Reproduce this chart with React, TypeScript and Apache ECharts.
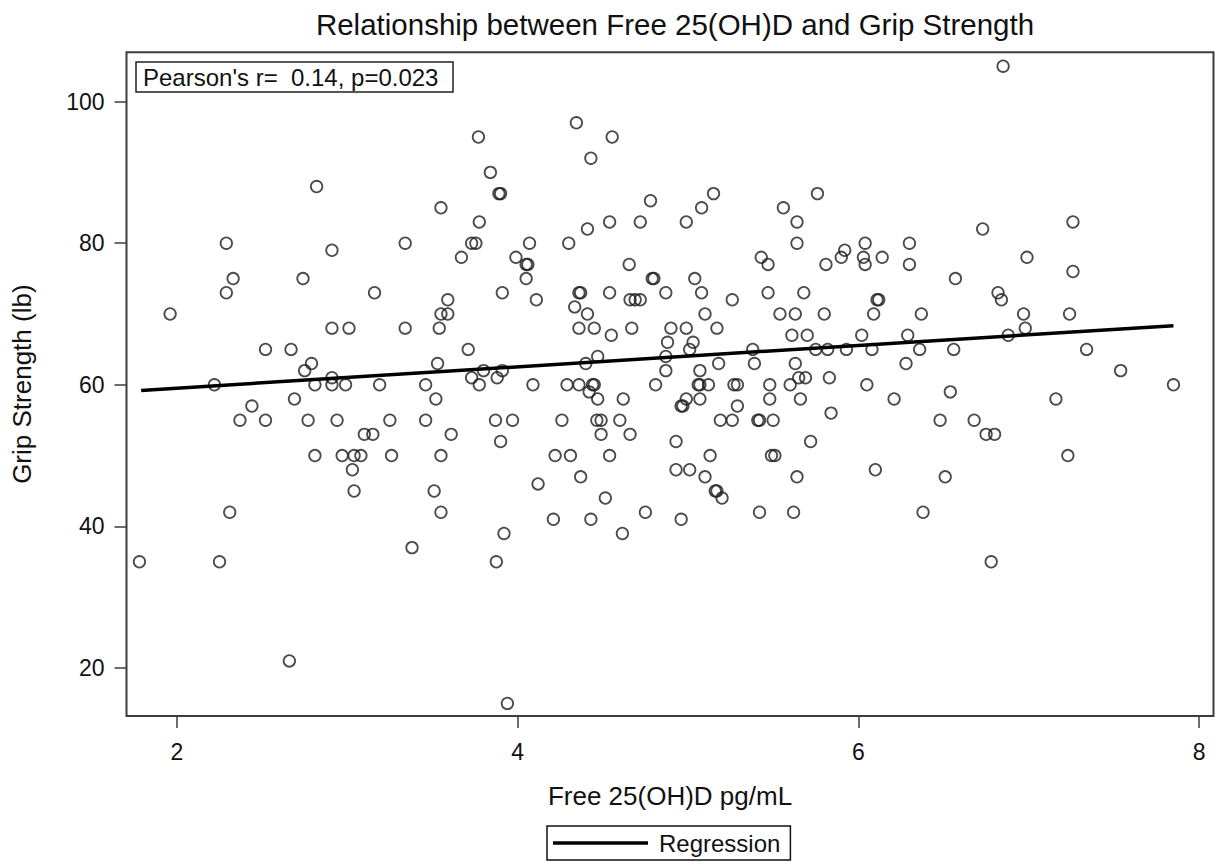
import React, { useEffect, useRef } from "react";
import * as echarts from "echarts";

const titleText = "Relationship between Free 25(OH)D and Grip Strength";
const xAxisTitle = "Free 25(OH)D pg/mL";
const yAxisTitle = "Grip Strength (lb)";
const statText = "Pearson's r=  0.14, p=0.023";
const legendLabel = "Regression";

const xTicks = [2, 4, 6, 8];
const yTicks = [20, 40, 60, 80, 100];

const freeD = [
  1.78, 1.96, 2.22, 2.25, 2.29, 2.29, 2.33, 2.31, 2.37, 2.44,
  2.52, 2.52, 2.66, 2.67, 2.69, 2.74, 2.75, 2.77, 2.79, 2.81,
  2.81, 2.82, 2.91, 2.91, 2.91, 2.91, 2.94, 2.97, 2.99, 3.01,
  3.03, 3.04, 3.04, 3.08, 3.10, 3.15, 3.16, 3.19, 3.25, 3.26,
  3.34, 3.34, 3.38, 3.46, 3.46, 3.51, 3.52, 3.53, 3.54, 3.55,
  3.55, 3.55, 3.55, 3.59, 3.59, 3.61, 3.67, 3.71, 3.73, 3.755,
  3.73, 3.775, 3.77, 3.775, 3.80, 3.84, 3.87, 3.875, 3.88, 3.89,
  3.90, 3.90, 3.91, 3.91, 3.92, 3.94, 3.97, 3.99, 4.05, 4.06,
  4.05, 4.07, 4.09, 4.11, 4.12, 4.21, 4.22, 4.26, 4.29, 4.30,
  4.31, 4.335, 4.345, 4.36, 4.37, 4.36, 4.36, 4.37, 4.40, 4.41,
  4.41, 4.42, 4.43, 4.43, 4.44, 4.45, 4.45, 4.465, 4.47, 4.47,
  4.49, 4.49, 4.515, 4.54, 4.54, 4.54, 4.555, 4.55, 4.60, 4.615,
  4.62, 4.655, 4.66, 4.69, 4.72, 4.67, 4.66, 4.72, 4.75, 4.78,
  4.79, 4.80, 4.81, 4.87, 4.87, 4.87, 4.88, 4.90, 4.93, 4.93,
  4.96, 4.96, 4.97, 4.99, 4.99, 4.99, 5.01, 5.03, 5.04, 5.01,
  5.06, 5.07, 5.07, 5.07, 5.08, 5.08, 5.10, 5.10, 5.12, 5.13,
  5.15, 5.16, 5.17, 5.17, 5.18, 5.19, 5.20, 5.26, 5.26, 5.27,
  5.29, 5.29, 5.38, 5.39, 5.41, 5.42, 5.42, 5.43, 5.47, 5.47,
  5.48, 5.48, 5.49, 5.50, 5.51, 5.54, 5.56, 5.60, 5.61, 5.62,
  5.63, 5.63, 5.64, 5.64, 5.64, 5.65, 5.66, 5.68, 5.69, 5.70,
  5.72, 5.75, 5.76, 5.80, 5.81, 5.82, 5.83, 5.84, 5.90, 5.92,
  5.93, 6.03, 6.04, 6.04, 6.02, 6.05, 6.08, 6.09, 6.10, 6.11,
  6.12, 6.14, 6.21, 6.28, 6.29, 6.30, 6.30, 6.36, 6.37, 6.38,
  6.48, 6.51, 6.54, 6.56, 6.57, 6.68, 6.73, 6.75, 6.78, 6.80,
  6.82, 6.84, 6.85, 6.88, 6.97, 6.98, 6.99, 7.16, 7.23, 7.24,
  7.26, 7.26, 7.34, 7.54, 7.85,
];

const gripStrength = [
  35, 70, 60, 35, 80, 73, 75, 42, 55, 57,
  65, 55, 21, 65, 58, 75, 62, 55, 63, 60,
  50, 88, 79, 68, 61, 60, 55, 50, 60, 68,
  48, 50, 45, 50, 53, 53, 73, 60, 55, 50,
  80, 68, 37, 60, 55, 45, 58, 63, 68, 85,
  70, 50, 42, 72, 70, 53, 78, 65, 80, 80,
  61, 83, 95, 60, 62, 90, 55, 35, 61, 87,
  87, 52, 73, 62, 39, 15, 55, 78, 77, 77,
  75, 80, 60, 72, 46, 41, 50, 55, 60, 80,
  50, 71, 97, 73, 73, 68, 60, 47, 63, 82,
  70, 59, 92, 41, 60, 60, 68, 55, 64, 58,
  55, 53, 44, 83, 73, 50, 95, 67, 55, 39,
  58, 77, 72, 72, 72, 68, 53, 83, 42, 86,
  75, 75, 60, 73, 64, 62, 66, 68, 52, 48,
  41, 57, 57, 68, 58, 83, 65, 66, 75, 48,
  60, 60, 62, 58, 85, 73, 70, 47, 60, 50,
  87, 45, 45, 68, 63, 55, 44, 72, 55, 60,
  60, 57, 65, 63, 55, 55, 42, 78, 77, 73,
  60, 58, 50, 55, 50, 70, 85, 60, 67, 42,
  70, 63, 83, 80, 47, 61, 58, 73, 61, 67,
  52, 65, 87, 70, 77, 65, 61, 56, 78, 79,
  65, 78, 80, 77, 67, 60, 65, 70, 48, 72,
  72, 78, 58, 63, 67, 80, 77, 65, 70, 42,
  55, 47, 59, 65, 75, 55, 82, 53, 35, 53,
  73, 72, 105, 67, 70, 68, 78, 58, 50, 70,
  83, 76, 65, 62, 60,
];

const regressionX = [1.79, 7.85];
const regressionY = [59.2, 68.35];

const FONT = '"Liberation Sans", Arial, Helvetica, sans-serif';

export default function App() {
  const ref = useRef<HTMLDivElement>(null);

  useEffect(() => {
    if (!ref.current) return;
    const chart = echarts.init(ref.current, null, { renderer: "svg" });
    const scatterData = freeD.map((x, i) => [x, gripStrength[i]]);
    const lineData = regressionX.map((x, i) => [x, regressionY[i]]);
    const tickFmt = (ticks: number[]) => (v: number) =>
      ticks.some((t) => Math.abs(t - v) < 1e-6) ? String(v) : "";

    chart.setOption({
      animation: false,
      backgroundColor: "#ffffff",
      textStyle: { fontFamily: FONT },
      title: {
        text: titleText,
        left: 670,
        textAlign: "center",
        top: 4,
        textStyle: { fontFamily: FONT, fontSize: 29.5, fontWeight: "normal", color: "#111" },
      },
      grid: {
        left: 126.5,
        right: 5.5,
        top: 52.3,
        bottom: 149,
        show: true,
        borderColor: "#3c3c3c",
        borderWidth: 2,
        backgroundColor: "#ffffff",
      },
      xAxis: {
        type: "value",
        min: 1.704,
        max: 8.085,
        axisLine: { show: false },
        splitLine: { show: false },
        axisTick: {
          show: true,
          length: 12,
          customValues: xTicks,
          lineStyle: { color: "#3c3c3c", width: 1.5 },
        },
        axisLabel: {
          customValues: xTicks,
          formatter: tickFmt(xTicks),
          fontFamily: FONT,
          fontSize: 23,
          color: "#111",
          margin: 24,
        },
        name: xAxisTitle,
        nameLocation: "middle",
        nameGap: 67,
        nameTextStyle: { fontFamily: FONT, fontSize: 26, color: "#111" },
      },
      yAxis: {
        type: "value",
        min: 13.22,
        max: 106.96,
        axisLine: { show: false },
        splitLine: { show: false },
        axisTick: {
          show: true,
          length: 12,
          customValues: yTicks,
          lineStyle: { color: "#3c3c3c", width: 1.5 },
        },
        axisLabel: {
          customValues: yTicks,
          formatter: tickFmt(yTicks),
          fontFamily: FONT,
          fontSize: 23,
          color: "#111",
          margin: 22,
        },
        name: yAxisTitle,
        nameLocation: "middle",
        nameGap: 92,
        nameRotate: 90,
        nameTextStyle: { fontFamily: FONT, fontSize: 26, color: "#111" },
      },
      legend: {
        data: [{ name: legendLabel, icon: "rect" }],
        left: 547,
        top: 826,
        itemWidth: 95,
        itemHeight: 3.5,
        itemStyle: { color: "#000", borderWidth: 0 },
        padding: [5, 10, 5, 6],
        borderColor: "#111",
        borderWidth: 1.5,
        borderRadius: 0,
        backgroundColor: "#ffffff",
        textStyle: { fontFamily: FONT, fontSize: 24, color: "#111", padding: [0, 0, 0, 6] },
      },
      graphic: [
        {
          type: "rect",
          shape: { x: 136, y: 62, width: 317, height: 30 },
          style: { fill: "#ffffff", stroke: "#222", lineWidth: 1.5 },
          z: 100,
        },
        {
          type: "text",
          x: 143,
          y: 77.5,
          style: {
            text: statText,
            fontFamily: FONT,
            fontSize: 24,
            fill: "#111",
            verticalAlign: "middle",
            align: "left",
          },
          z: 101,
        },
      ],
      series: [
        {
          name: "Data",
          type: "scatter",
          data: scatterData,
          symbol: "circle",
          symbolSize: 11.5,
          itemStyle: { color: "rgba(0,0,0,0)", borderColor: "#1e1e1e", borderWidth: 1.8 },
          emphasis: { disabled: true },
          z: 2,
        },
        {
          name: legendLabel,
          type: "line",
          data: lineData,
          symbol: "none",
          itemStyle: { color: "#000" },
          lineStyle: { color: "#000", width: 3.5 },
          emphasis: { disabled: true },
          z: 3,
        },
      ],
    });

    return () => chart.dispose();
  }, []);

  return (
    <div
      ref={ref}
      style={{ position: "fixed", left: 0, top: 0, width: 1219, height: 865, background: "#fff" }}
    />
  );
}
